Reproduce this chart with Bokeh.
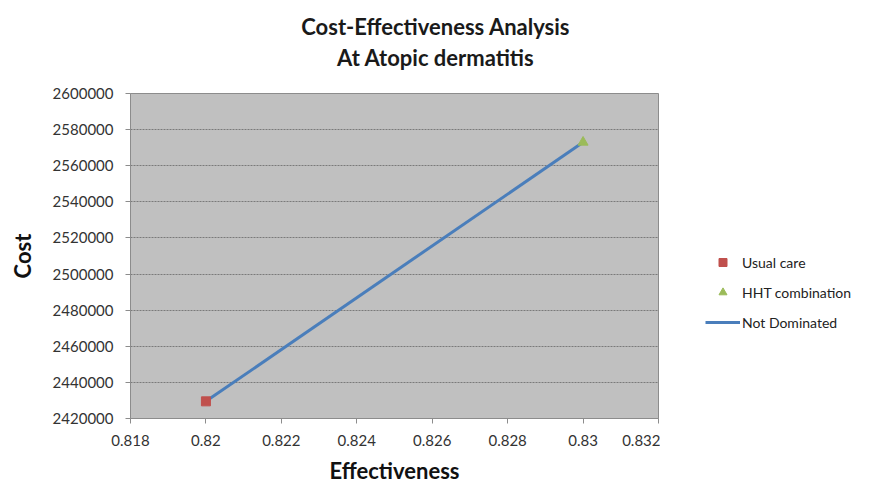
from bokeh.plotting import figure
from bokeh.layouts import row
from bokeh.models import (Legend, LegendItem, FixedTicker, CustomJSTickFormatter,
                          Range1d, Title)
from bokeh.embed import file_html
from bokeh.resources import INLINE

# Data
usual_care_x = [0.82]
usual_care_y = [2429500]
hht_x = [0.83]
hht_y = [2573000]
frontier_x = [0.82, 0.83]
frontier_y = [2429500, 2573000]

x_ticks = [0.818, 0.82, 0.822, 0.824, 0.826, 0.828, 0.83, 0.832]
y_ticks = [2420000, 2440000, 2460000, 2480000, 2500000, 2520000, 2540000,
           2560000, 2580000, 2600000]

FONT = "Lato"
SHIFT = "\u2003" * 5  # em spaces: centre the title over the whole chart

COL_UC = "#c0504d"
COL_HHT = "#9bbb59"
COL_LINE = "#4a7ebb"

p = figure(width=660, height=502, output_backend="svg", toolbar_location=None,
           x_range=Range1d(0.818, 0.832), y_range=Range1d(2420000, 2600000),
           min_border_left=130, min_border_right=2, min_border_top=93,
           min_border_bottom=84, title=None)

p.background_fill_color = "#c0c0c0"
p.border_fill_color = "white"
p.outline_line_color = "#8c8c8c"
p.outline_line_width = 1

# Title lines, stacked from the plot outward
spacer = Title(text=" ", align="center", standoff=20, text_font_size="1px")
t2 = Title(text=SHIFT + "At Atopic dermatitis", align="center", standoff=0,
           text_font=FONT, text_font_size="22px", text_font_style="bold",
           text_color="#1a1a1a")
t1 = Title(text=SHIFT + "Cost-Effectiveness Analysis", align="center", standoff=4,
           text_font=FONT, text_font_size="22px", text_font_style="bold",
           text_color="#1a1a1a")
p.add_layout(spacer, "above")
p.add_layout(t2, "above")
p.add_layout(t1, "above")

# Axes
for ax in (p.xaxis[0], p.yaxis[0]):
    ax.axis_line_color = "#8c8c8c"
    ax.major_tick_line_color = "#8c8c8c"
    ax.major_tick_out = 5
    ax.major_tick_in = 0
    ax.minor_tick_line_color = None
    ax.major_label_text_font = FONT
    ax.major_label_text_font_size = "15px"
    ax.major_label_text_color = "#333333"
    ax.axis_label_text_font = FONT
    ax.axis_label_text_font_size = "22px"
    ax.axis_label_text_font_style = "bold"
    ax.axis_label_text_color = "#111111"

p.xaxis.ticker = FixedTicker(ticks=x_ticks)
p.yaxis.ticker = FixedTicker(ticks=y_ticks)
p.xaxis.formatter = CustomJSTickFormatter(code="return String(parseFloat(tick.toFixed(4)));")
p.yaxis.formatter = CustomJSTickFormatter(code="return String(Math.round(tick));")
p.xaxis.axis_label = "Effectiveness"
p.yaxis.axis_label = "Cost"
p.yaxis.axis_label_standoff = 14
p.xaxis.axis_label_standoff = 8
p.xaxis.major_label_standoff = 11
p.yaxis.major_label_standoff = 12

p.xgrid.grid_line_color = None
p.ygrid.grid_line_color = "#7a7a7a"
p.ygrid.grid_line_dash = "2 1"
p.ygrid.grid_line_width = 1

# Glyphs
p.line(frontier_x, frontier_y, line_color=COL_LINE, line_width=3)
p.scatter(usual_care_x, usual_care_y, marker="square", size=9,
          fill_color=COL_UC, line_color=COL_UC)
p.scatter(hht_x, hht_y, marker="triangle", size=10,
          fill_color=COL_HHT, line_color=COL_HHT)

# Legend panel: a second, axis-less figure to the right of the chart
lg = figure(width=222, height=502, output_backend="svg", toolbar_location=None,
            x_range=Range1d(0, 1), y_range=Range1d(0, 1),
            x_axis_type=None, y_axis_type=None, min_border=0, title=None)
lg.outline_line_color = None
lg.background_fill_color = "white"
lg.border_fill_color = "white"
lg.grid.visible = False

# legend proxies (same series, drawn outside this panel's visible range)
ln2 = lg.line(frontier_x, frontier_y, line_color=COL_LINE, line_width=3)
sq2 = lg.scatter(usual_care_x, usual_care_y, marker="square", size=9,
                 fill_color=COL_UC, line_color=COL_UC)
tr2 = lg.scatter(hht_x, hht_y, marker="triangle", size=10,
                 fill_color=COL_HHT, line_color=COL_HHT)

legend = Legend(items=[LegendItem(label="Usual care", renderers=[sq2]),
                       LegendItem(label="HHT combination", renderers=[tr2]),
                       LegendItem(label="Not Dominated", renderers=[ln2])],
                location=(45, 86), background_fill_alpha=0, border_line_color=None,
                label_text_font=FONT, label_text_font_size="14px",
                label_text_color="#222222", spacing=10, glyph_width=35,
                glyph_height=20, label_height=20,
                label_standoff=2, padding=0, margin=0)
lg.add_layout(legend)

layout = row(p, lg, spacing=0)
open("out.html", "w").write(file_html(layout, INLINE))
